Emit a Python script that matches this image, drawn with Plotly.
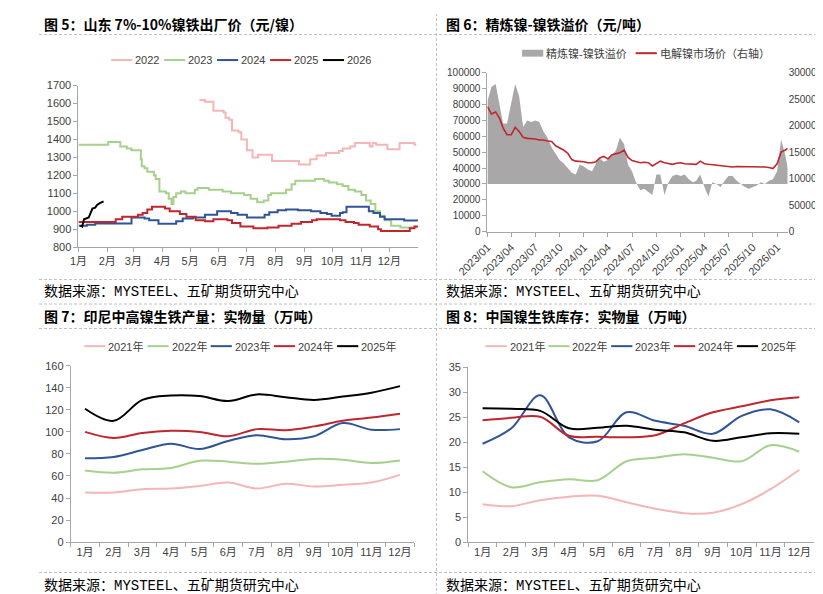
import plotly.graph_objects as go

W, H = 823, 594
FONT = "Liberation Sans, Noto Sans CJK SC, sans-serif"
CJK = "Noto Sans CJK SC, sans-serif"
SRC_FONT = "Liberation Mono, Noto Sans CJK SC, monospace"
AXIS_GREY = "#A6A6A6"
TICK_TXT = "#404040"

PINK = "#F4B6B6"
GREEN = "#A6D08B"
BLUE = "#2F5597"
RED = "#C0262D"
BLACK = "#000000"
AREA_GREY = "#A9A7A7"

MONTHS = ["1月", "2月", "3月", "4月", "5月", "6月", "7月", "8月", "9月", "10月", "11月", "12月"]

# ---- 图5: 山东 7%-10%镍铁出厂价, change points (month-day, 元/镍)
P22_DAYS = ["05-11", "05-17", "05-26", "06-06", "06-08", "06-12", "06-15", "06-22", "06-25", "07-01",
            "07-07", "07-13", "07-28", "08-26", "09-07", "09-14", "09-24", "10-08", "10-12", "10-20",
            "10-25", "11-10", "11-13", "11-17", "11-29", "12-12", "12-28", "12-30"]
P22 = [1620, 1610, 1560, 1550, 1520, 1510, 1450, 1440, 1400, 1340,
       1300, 1315, 1280, 1260, 1290, 1310, 1325, 1335, 1350, 1360,
       1380, 1360, 1380, 1370, 1345, 1380, 1370, 1370]

P23_DAYS = ["01-01", "02-02", "02-15", "02-22", "02-27", "03-09", "03-10", "03-13", "03-16", "03-23",
            "03-25", "03-29", "04-05", "04-08", "04-11", "04-13", "04-16", "04-21", "04-26", "05-06",
            "05-09", "05-21", "06-05", "06-14", "06-28", "07-05", "07-12", "07-19", "07-24", "07-27",
            "08-12", "08-18", "08-22", "09-12", "09-22", "09-27", "10-06", "10-12", "10-18", "10-25",
            "11-01", "11-06", "11-11", "11-16", "11-21", "11-26", "12-03", "12-13", "12-31"]
P23 = [1370, 1385, 1360, 1350, 1340, 1290, 1250, 1240, 1220, 1200,
       1180, 1110, 1100, 1070, 1040, 1080, 1100, 1110, 1100, 1120,
       1130, 1120, 1110, 1100, 1090, 1070, 1050, 1060, 1090, 1100,
       1120, 1150, 1170, 1180, 1170, 1160, 1150, 1140, 1120, 1110,
       1090, 1060, 1040, 1000, 975, 950, 920, 910, 910]

P24_DAYS = ["01-01", "01-10", "01-19", "02-27", "03-13", "03-18", "03-28", "04-16", "04-23", "05-04",
            "05-17", "05-30", "06-14", "06-21", "07-01", "07-20", "07-25", "08-03", "08-12", "08-25",
            "09-08", "09-18", "09-25", "09-30", "10-09", "10-12", "10-16", "11-09", "11-14", "11-21",
            "11-26", "12-17", "12-31"]
P24 = [920, 925, 932, 965, 960, 950, 930, 945, 960, 965,
       980, 1000, 990, 980, 965, 980, 995, 1005, 1010, 1005,
       1000, 990, 985, 975, 990, 995, 1025, 1000, 990, 970,
       955, 948, 945]

P25_DAYS = ["01-01", "02-10", "02-17", "03-06", "03-11", "03-16", "03-21", "04-04", "04-09", "04-20",
            "04-27", "05-07", "05-17", "05-26", "06-10", "06-15", "06-24", "07-08", "07-23", "08-04",
            "08-18", "08-28", "09-09", "09-14", "10-09", "10-15", "10-24", "10-29", "11-10", "11-19",
            "11-22", "12-23", "12-28", "12-31"]
P25 = [940, 955, 970, 980, 990, 1010, 1025, 1015, 1000, 985,
       970, 950, 945, 955, 950, 935, 915, 905, 910, 920,
       930, 940, 950, 955, 950, 940, 935, 925, 915, 900,
       890, 905, 915, 920]

P26_DAYS = ["01-03", "01-05", "01-07", "01-11", "01-12", "01-14", "01-16", "01-19", "01-21", "01-24", "01-28"]
P26 = [920, 915, 955, 960, 965, 990, 1015, 1020, 1035, 1045, 1055]

# ---- 图6: 精炼镍-镍铁溢价 (元/吨) and 电解镍市场价 (右轴)
SPREAD_DATES = [
    "2023-01-01", "2023-01-16", "2023-02-01", "2023-02-16", "2023-03-01", "2023-03-16", "2023-04-01", "2023-04-16",
    "2023-05-01", "2023-05-16", "2023-06-01", "2023-06-16", "2023-07-01", "2023-07-16", "2023-08-01", "2023-08-16",
    "2023-09-01", "2023-09-16", "2023-10-01", "2023-10-16", "2023-11-01", "2023-11-16", "2023-12-01", "2023-12-16",
    "2024-01-01", "2024-01-16", "2024-02-01", "2024-02-16", "2024-03-01", "2024-03-16", "2024-04-01", "2024-04-16",
    "2024-05-01", "2024-05-16", "2024-06-01", "2024-06-16", "2024-07-01", "2024-07-16", "2024-08-01", "2024-08-16",
    "2024-09-01", "2024-09-16", "2024-10-01", "2024-10-16", "2024-11-01", "2024-11-16", "2024-12-01", "2024-12-16",
    "2025-01-01", "2025-01-16", "2025-02-01", "2025-02-16", "2025-03-01", "2025-03-16", "2025-04-01", "2025-04-16",
    "2025-05-01", "2025-05-16", "2025-06-01", "2025-06-16", "2025-07-01", "2025-07-16", "2025-08-01", "2025-08-16",
    "2025-09-01", "2025-09-16", "2025-10-01", "2025-10-16", "2025-11-01", "2025-11-16", "2025-12-01", "2025-12-16",
    "2026-01-01", "2026-01-16", "2026-02-01", "2026-02-10"]
SPREAD = [82000, 91000, 93000, 79000, 68000, 68000, 82000, 93000, 85000, 66000,
          70000, 69000, 70000, 69000, 63000, 59000, 53000, 49000, 45000, 43000,
          40000, 37000, 36000, 42000, 41000, 39000, 38000, 43000, 46000, 44000,
          45000, 48000, 51000, 59000, 55000, 42000, 38000, 31000, 26000, 27000,
          25000, 23000, 36000, 36000, 23000, 31000, 35000, 36000, 35000, 36000,
          33000, 31000, 32000, 36000, 28000, 22000, 31000, 30000, 28000, 32000,
          35000, 35000, 32000, 30000, 28000, 27000, 28000, 29000, 31000, 30000,
          32000, 33000, 38000, 58000, 48000, 40000]
NICKEL = [236000, 222000, 226000, 214000, 196000, 183000, 183000, 197000, 189000, 178000,
          176000, 176000, 175000, 173000, 173000, 171000, 170000, 162000, 158000, 154000,
          148000, 136000, 133000, 133000, 132000, 130000, 130000, 132000, 139000, 142000,
          137000, 145000, 147000, 149000, 154000, 140000, 134000, 132000, 130000, 131000,
          130000, 124000, 128000, 133000, 130000, 129000, 127000, 129000, 130000, 128000,
          128000, 128000, 127000, 133000, 128000, 127000, 126000, 125000, 124000, 123000,
          122000, 122000, 123000, 123000, 123000, 123000, 123000, 123000, 122000, 122000,
          121000, 119000, 128000, 150000, 154000, 157000]
SPREAD_BASE = 30000  # horizontal axis crosses here

# ---- 图7: 印尼中高镍生铁产量 (万吨)
IDN = {
    "2021年": [45, 45, 48, 48.6, 51, 54, 48.6, 53, 50.4, 52, 54, 61],
    "2022年": [65, 63, 66, 67.3, 73.8, 73, 71, 73, 75.5, 74.7, 71.7, 74],
    "2023年": [76, 77.3, 83.5, 89.3, 84.4, 91.8, 97, 93.3, 96, 108, 102, 102.5],
    "2024年": [100, 94.5, 99, 101, 100, 96, 102.5, 101.5, 105, 110, 113, 116.5],
    "2025年": [121, 110, 129, 133, 132.5, 128, 134, 131.5, 129, 132, 135.5, 141.5],
}

# ---- 图8: 中国镍生铁库存 (万吨)
CHN = {
    "2021年": [7.6, 7.2, 8.4, 9.1, 9.3, 8.0, 6.7, 5.8, 5.9, 7.6, 10.6, 14.5],
    "2022年": [14.2, 11.0, 12.0, 12.6, 12.4, 16.2, 16.9, 17.6, 16.9, 16.2, 19.4, 18.1],
    "2023年": [19.7, 22.8, 29.4, 21.0, 20.2, 26.0, 24.3, 23.3, 21.7, 25.3, 26.6, 24.0],
    "2024年": [24.4, 24.9, 25.1, 21.3, 21.1, 21.0, 21.4, 23.8, 26.0, 27.2, 28.4, 29.0],
    "2025年": [26.8, 26.7, 26.3, 22.8, 22.9, 23.3, 22.5, 22.0, 20.3, 21.0, 21.8, 21.7],
}
YEAR_COLORS = [PINK, GREEN, BLUE, RED, BLACK]


def px_x(x):
    return x / W


def px_y(y):
    return 1 - y / H


def md(days):
    return ["2001-" + d for d in days]


fig = go.Figure()

# fig 5
for days, vals, color in [(P22_DAYS, P22, PINK), (P23_DAYS, P23, GREEN), (P24_DAYS, P24, BLUE),
                          (P25_DAYS, P25, RED)]:
    fig.add_trace(go.Scatter(x=md(days), y=vals, mode="lines", line=dict(color=color, width=2, shape="hv"),
                             xaxis="x", yaxis="y", showlegend=False))
fig.add_trace(go.Scatter(x=md(P26_DAYS), y=P26, mode="lines", line=dict(color=BLACK, width=2),
                         xaxis="x", yaxis="y", showlegend=False))

# fig 6
fig.add_trace(go.Scatter(x=SPREAD_DATES, y=[SPREAD_BASE] * len(SPREAD_DATES), mode="lines",
                         line=dict(width=0), xaxis="x2", yaxis="y2", showlegend=False, hoverinfo="skip"))
fig.add_trace(go.Scatter(x=SPREAD_DATES, y=SPREAD, mode="lines", line=dict(width=0), fill="tonexty",
                         fillcolor=AREA_GREY, xaxis="x2", yaxis="y2", showlegend=False))
fig.add_trace(go.Scatter(x=SPREAD_DATES, y=NICKEL, mode="lines", line=dict(color=RED, width=1.6),
                         xaxis="x2", yaxis="y3", showlegend=False))

# fig 7 / fig 8
for (name, vals), color in zip(IDN.items(), YEAR_COLORS):
    fig.add_trace(go.Scatter(x=MONTHS, y=vals, mode="lines", line=dict(color=color, width=2, shape="spline"),
                             xaxis="x3", yaxis="y4", showlegend=False, name=name))
for (name, vals), color in zip(CHN.items(), YEAR_COLORS):
    fig.add_trace(go.Scatter(x=MONTHS, y=vals, mode="lines", line=dict(color=color, width=2, shape="spline"),
                             xaxis="x4", yaxis="y5", showlegend=False, name=name))

tick_font = dict(family=FONT, size=11, color=TICK_TXT)
small_font = dict(family=FONT, size=10, color=TICK_TXT)
axis_common = dict(showgrid=False, zeroline=False, showline=True, linecolor=AXIS_GREY, linewidth=1,
                   ticks="outside", ticklen=4, tickcolor=AXIS_GREY, tickfont=tick_font, fixedrange=True)

fig.update_layout(
    width=W, height=H, autosize=False, margin=dict(l=0, r=0, t=0, b=0),
    paper_bgcolor="white", plot_bgcolor="white", showlegend=False,
    xaxis=dict(axis_common, domain=[px_x(41), px_x(394)], anchor="y", type="date",
               range=["2001-01-01", "2002-01-01"], tickangle=0,
               tickvals=["2001-%02d-01" % m for m in range(1, 13)], ticktext=MONTHS),
    yaxis=dict(axis_common, domain=[px_y(238), px_y(73)], anchor="x", range=[800, 1700], dtick=100),
    xaxis2=dict(axis_common, domain=[px_x(466), px_x(778)], anchor="y2", type="date",
                range=["2023-01-01", "2026-02-10"], dtick="M3", tick0="2023-01-01",
                tickformat="%Y/%m", tickangle=-45),
    yaxis2=dict(axis_common, domain=[px_y(222), px_y(60)], anchor="x2", range=[0, 100000], dtick=10000,
                tickformat="d", tickfont=small_font),
    yaxis3=dict(axis_common, overlaying="y2", side="right", anchor="x2", range=[0, 300000], dtick=50000,
                tickformat="d", showline=False, ticks="", tickfont=small_font),
    xaxis3=dict(axis_common, domain=[px_x(33), px_x(390)], anchor="y4", type="category",
                range=[-0.5, 11.5], tickson="boundaries", tickangle=0),
    yaxis4=dict(axis_common, domain=[px_y(539), px_y(359)], anchor="x3", range=[0, 160], dtick=20),
    xaxis4=dict(axis_common, domain=[px_x(446), px_x(805)], anchor="y5", type="category",
                range=[-0.5, 11.5], tickson="boundaries", tickangle=0),
    yaxis5=dict(axis_common, domain=[px_y(539), px_y(360.7)], anchor="x4", range=[0, 35], dtick=5),
)

# frame: dashed separators
shapes = []
for y in [21, 271, 296, 321, 570]:
    shapes.append(dict(type="line", xref="paper", yref="paper", x0=0, x1=1, y0=px_y(y), y1=px_y(y),
                       line=dict(color="#BFBFBF", width=1, dash="3px,2px")))
shapes.append(dict(type="line", xref="paper", yref="paper", x0=px_x(413), x1=px_x(413), y0=0, y1=1,
                   line=dict(color="#BFBFBF", width=1, dash="3px,2px")))

annotations = []


def text(x, y, s, size=11, color=TICK_TXT, family=FONT, anchor="left"):
    annotations.append(dict(x=px_x(x), y=px_y(y), xref="paper", yref="paper", text=s, showarrow=False,
                            xanchor=anchor, yanchor="middle", font=dict(family=family, size=size, color=color)))


def legend_item(x, y, label, color, kind="line", w=22):
    if kind == "line":
        shapes.append(dict(type="line", xref="paper", yref="paper", x0=px_x(x), x1=px_x(x + w),
                           y0=px_y(y), y1=px_y(y), line=dict(color=color, width=2)))
    else:
        shapes.append(dict(type="rect", xref="paper", yref="paper", x0=px_x(x), x1=px_x(x + w),
                           y0=px_y(y + 3.5), y1=px_y(y - 3.5), line=dict(width=0), fillcolor=color))
    text(x + w + 1, y, label)


# titles and sources
for x, y, s in [(3, 10, "图 5：山东 7%-10%镍铁出厂价（元/镍）"), (421, 10, "图 6：精炼镍-镍铁溢价（元/吨）"),
                (3, 308, "图 7：印尼中高镍生铁产量：实物量（万吨）"), (421, 308, "图 8：中国镍生铁库存：实物量（万吨）")]:
    text(x, y, "<b>%s</b>" % s, size=14, color="#000000", family=CJK)
for x, y in [(3, 283), (421, 283), (3, 583), (421, 583)]:
    text(x, y, "数据来源：MYSTEEL、五矿期货研究中心", size=14, color="#000000", family=SRC_FONT)

# legends
for i, (lab, col) in enumerate(zip(["2022", "2023", "2024", "2025", "2026"], YEAR_COLORS)):
    legend_item(75 + 55 * i, 47, lab, col)
legend_item(502, 40, "精炼镍-镍铁溢价", AREA_GREY, kind="rect")
legend_item(620, 40, "电解镍市场价（右轴）", RED)
for i, (lab, col) in enumerate(zip(IDN.keys(), YEAR_COLORS)):
    legend_item(47 + 65.7 * i, 339, lab, col)
for i, (lab, col) in enumerate(zip(CHN.keys(), YEAR_COLORS)):
    legend_item(464 + 65.3 * i, 339, lab, col)

fig.update_layout(shapes=shapes, annotations=annotations)
fig.write_html("out.html")
